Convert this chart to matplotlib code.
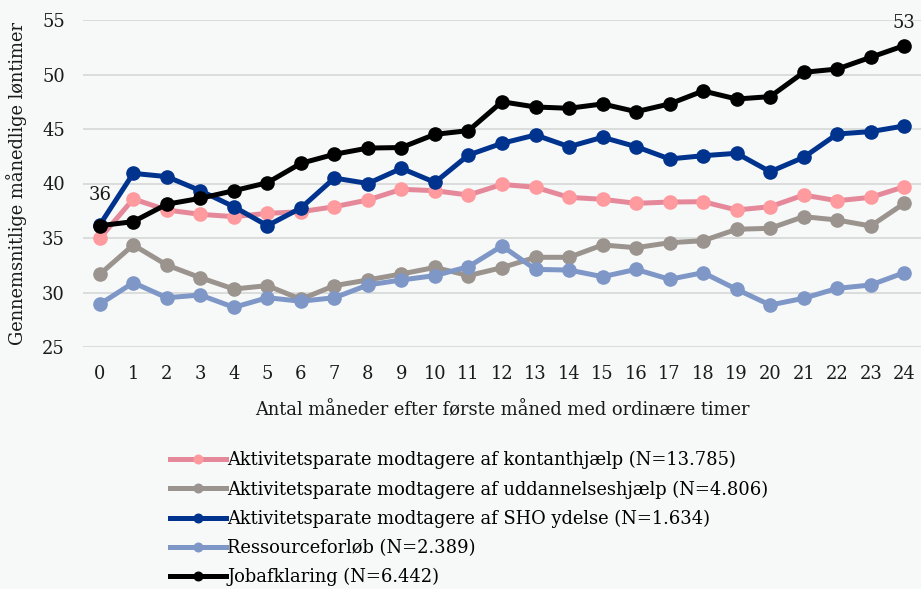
import matplotlib
matplotlib.use("Agg")
import matplotlib.pyplot as plt

months = list(range(25))
kontant = [34.97, 38.58, 37.57, 37.17, 36.96, 37.26, 37.41, 37.87, 38.49, 39.47, 39.34, 38.94, 39.92,
           39.65, 38.73, 38.55, 38.18, 38.30, 38.33, 37.57, 37.87, 38.94, 38.42, 38.73, 39.70]
uddannelse = [31.67, 34.36, 32.52, 31.36, 30.32, 30.63, 29.38, 30.63, 31.15, 31.70, 32.30, 31.55, 32.28,
              33.23, 33.23, 34.36, 34.11, 34.57, 34.75, 35.80, 35.89, 36.96, 36.65, 36.10, 38.18]
sho = [36.20, 40.93, 40.63, 39.34, 37.87, 36.13, 37.75, 40.50, 40.00, 41.39, 40.10, 42.61, 43.69,
       44.45, 43.38, 44.24, 43.38, 42.25, 42.55, 42.77, 41.08, 42.40, 44.54, 44.76, 45.28]
ressource = [28.92, 30.90, 29.52, 29.77, 28.64, 29.52, 29.20, 29.52, 30.69, 31.15, 31.55, 32.37, 34.27,
             32.12, 32.06, 31.45, 32.12, 31.21, 31.82, 30.29, 28.85, 29.47, 30.38, 30.69, 31.82]
jobafklaring = [36.13, 36.50, 38.10, 38.64, 39.34, 40.07, 41.85, 42.68, 43.25, 43.30, 44.51, 44.85, 47.50,
                47.02, 46.90, 47.30, 46.59, 47.30, 48.49, 47.75, 47.97, 50.20, 50.50, 51.58, 52.65]

labels = ["Aktivitetsparate modtagere af kontanthjælp (N=13.785)",
          "Aktivitetsparate modtagere af uddannelseshjælp (N=4.806)",
          "Aktivitetsparate modtagere af SHO ydelse (N=1.634)",
          "Ressourceforløb (N=2.389)",
          "Jobafklaring (N=6.442)"]
series = [kontant, uddannelse, sho, ressource, jobafklaring]
line_colors = ["#E5899A", "#9B948E", "#00338D", "#7E97C7", "#000000"]
marker_colors = ["#FF9A9E", "#9B948E", "#00338D", "#7E97C7", "#000000"]

yticks = [25, 30, 35, 40, 45, 50, 55]
xlabel = "Antal måneder efter første måned med ordinære timer"
ylabel = "Gennemsnitlige månedlige løntimer"

plt.rcParams['font.family'] = ['DejaVu Serif']
fs = 12.9
bg = "#F7F9F9"
tc = '#1a1a1a'

fig = plt.figure(figsize=(9.21, 5.89), dpi=100, facecolor=bg)
ax = fig.add_axes([83/921, 1 - 347/589, (921 - 83)/921, (347 - 20)/589])
ax.set_facecolor(bg)

handles = []
for vals, lc, mc, lab in zip(series, line_colors, marker_colors, labels):
    h, = ax.plot(months, vals, color=lc, lw=3.6, marker='o', markersize=9.5,
                 markerfacecolor=mc, markeredgecolor=mc, label=lab, clip_on=False, zorder=3)
    handles.append(h)

ax.set_xlim(-0.5, 24.5)
ax.set_ylim(25, 55)
ax.set_yticks(yticks)
ax.set_xticks(months)
ax.grid(axis='y', color='#D9D9D9', lw=1.3)
ax.set_axisbelow(True)
for s in ax.spines.values():
    s.set_visible(False)
ax.tick_params(length=0, labelsize=fs, colors=tc)
ax.tick_params(axis='x', pad=13)
ax.tick_params(axis='y', pad=13)

ax.set_xlabel(xlabel, fontsize=fs, labelpad=13, color=tc)
ax.set_ylabel(ylabel, fontsize=fs, labelpad=11, color=tc)

ax.annotate(f"{round(jobafklaring[0])}", (months[0], jobafklaring[0]), xytext=(0, 22),
            textcoords='offset points', ha='center', va='center', fontsize=fs, color=tc)
ax.annotate(f"{round(jobafklaring[-1])}", (months[-1], jobafklaring[-1]), xytext=(0, 16),
            textcoords='offset points', ha='center', va='center', fontsize=fs, color=tc)

fig.legend(handles=handles, loc='upper left', bbox_to_anchor=(170/921, 1 - 451/589),
           frameon=False, fontsize=fs, handlelength=3.1, handletextpad=0.1,
           labelspacing=0.62, borderaxespad=0, borderpad=0, markerscale=0.65)

fig.savefig("out.png", dpi=100, facecolor=bg)
